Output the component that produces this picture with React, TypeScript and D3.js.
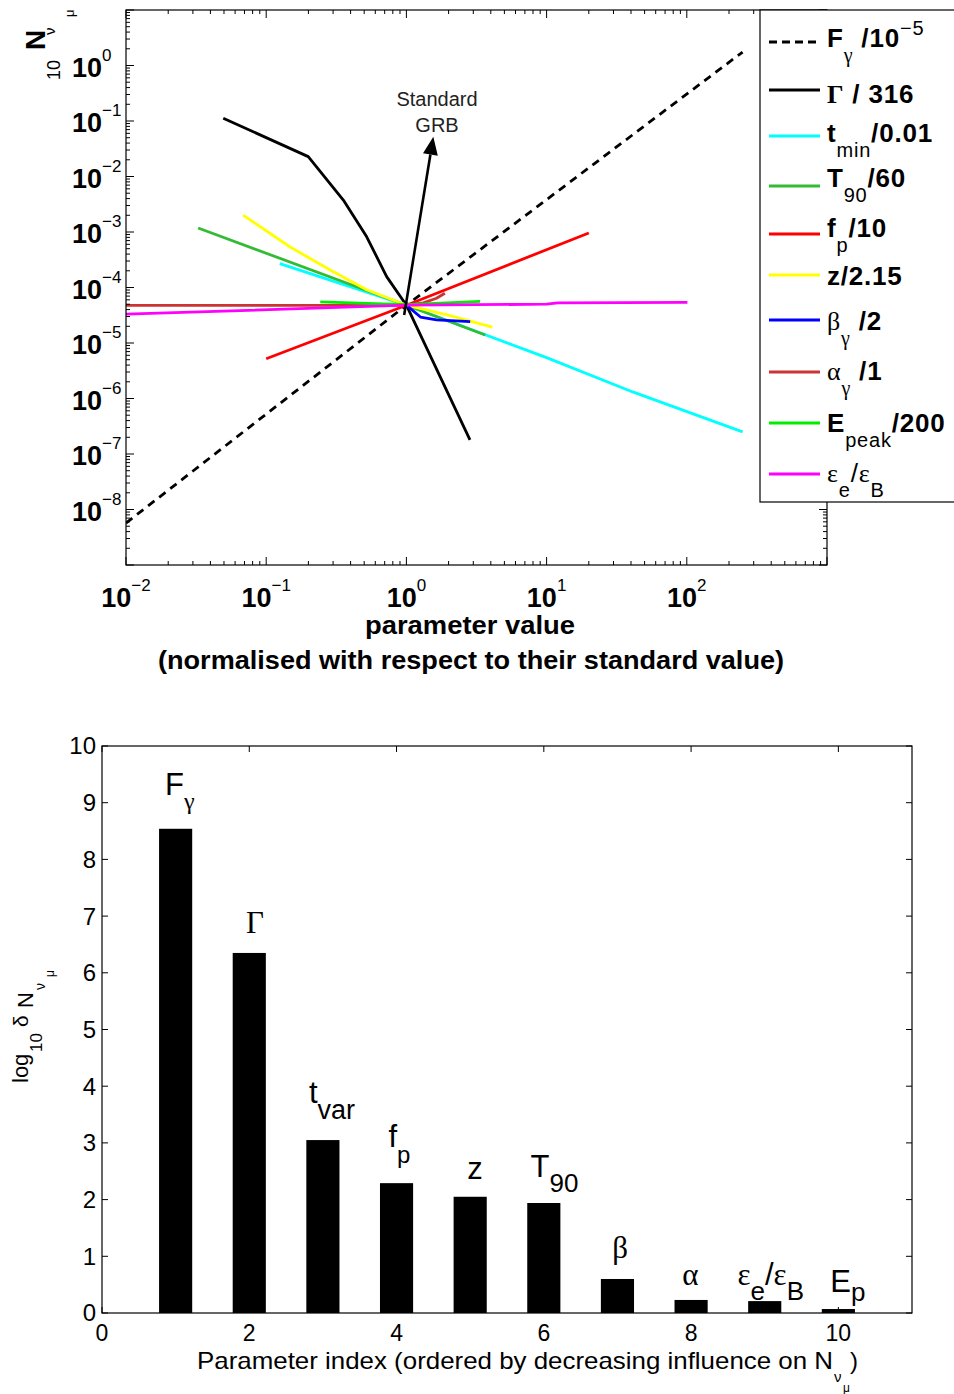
import React from 'react';
import * as d3 from 'd3';

const W = 954;
const H = 1394;
const SANS = "'Liberation Sans', Arial, Helvetica, sans-serif";
const SERIF = "'Liberation Serif', 'Times New Roman', serif";

// ---------- Top chart data (parameter value, N) ----------
const fGammaX = [0.01, 1, 250];
const fGammaY = [5.7e-9, 4.8e-5, 1.75];
const gammaX = [0.0494, 0.1995, 0.355, 0.521, 0.723, 1, 2.84];
const gammaY = [0.112, 0.0228, 0.00377, 8.2e-4, 1.57e-4, 4.8e-5, 1.79e-7];
const tminX = [0.125, 1, 10.1, 41.6, 250];
const tminY = [2.7e-4, 4.8e-5, 5.4e-6, 1.3e-6, 2.5e-7];
const t90X = [0.0327, 1, 3.65];
const t90Y = [1.18e-3, 4.8e-5, 1.39e-5];
const fpX = [0.1, 1, 20];
const fpY = [5.2e-6, 4.8e-5, 9.6e-4];
const zX = [0.0684, 0.148, 0.286, 0.525, 1, 1.95, 4.1];
const zY = [2.02e-3, 5.37e-4, 2.07e-4, 9.0e-5, 4.8e-5, 3.2e-5, 1.94e-5];
const betaX = [0.97, 1, 1.26, 1.64, 2.85];
const betaY = [4.9e-5, 4.8e-5, 2.94e-5, 2.6e-5, 2.42e-5];
const alphaX = [0.01, 0.3, 1, 1.32, 1.64, 1.88];
const alphaY = [4.75e-5, 4.78e-5, 4.8e-5, 5.3e-5, 6.4e-5, 7.9e-5];
const epeakX = [0.243, 1, 3.36];
const epeakY = [5.5e-5, 4.9e-5, 5.6e-5];
const epsX = [0.01, 1, 10, 12, 101];
const epsY = [3.3e-5, 4.8e-5, 5.0e-5, 5.3e-5, 5.4e-5];

const seriesX = [fGammaX, gammaX, tminX, t90X, fpX, zX, betaX, alphaX, epeakX, epsX];
const seriesY = [fGammaY, gammaY, tminY, t90Y, fpY, zY, betaY, alphaY, epeakY, epsY];
const seriesColors = ['#000000', '#000000', '#00ffff', '#33bb33', '#ff0000', '#ffff00', '#0000ff', '#cc3333', '#00ee00', '#ff00ff'];
const seriesDash = [true, false, false, false, false, false, false, false, false, false];

// legend text parts: level 0 main, 1 sub, -1 sup
type Part = { t: string; lv?: number; serif?: boolean; light?: boolean };
const legendParts: Part[][] = [
  [{ t: 'F' }, { t: 'γ', lv: 1, serif: true }, { t: ' /10' }, { t: '−5', lv: -1 }],
  [{ t: 'Γ', serif: true }, { t: ' / 316' }],
  [{ t: 't' }, { t: 'min', lv: 1 }, { t: '/0.01' }],
  [{ t: 'T' }, { t: '90', lv: 1 }, { t: '/60' }],
  [{ t: 'f' }, { t: 'p', lv: 1 }, { t: '/10' }],
  [{ t: 'z/2.15' }],
  [{ t: 'β', serif: true, light: true }, { t: 'γ', lv: 1, serif: true }, { t: ' /2' }],
  [{ t: 'α', serif: true, light: true }, { t: 'γ', lv: 1, serif: true }, { t: ' /1' }],
  [{ t: 'E' }, { t: 'peak', lv: 1 }, { t: '/200' }],
  [{ t: 'ε', serif: true, light: true }, { t: 'e', lv: 1 }, { t: '/', light: true }, { t: 'ε', serif: true, light: true }, { t: 'B', lv: 1 }],
];
const legendLineY = [42, 90, 136, 186, 234, 275, 320, 372, 423, 474];
const legendBaseY = [47, 103, 142, 187, 237, 285, 330, 380, 432, 482];

const xTopDecades = [-2, -1, 0, 1, 2, 3];
const xTopLabelDecades = [-2, -1, 0, 1, 2];
const yTopDecades = [-9, -8, -7, -6, -5, -4, -3, -2, -1, 0, 1];
const yTopLabelDecades = [0, -1, -2, -3, -4, -5, -6, -7, -8];

const arrowTail = [0.964, 3.2e-5];
const arrowTip = [1.556, 0.052];

// ---------- Bottom chart data ----------
const barIndex = [1, 2, 3, 4, 5, 6, 7, 8, 9, 10];
const barValues = [8.54, 6.35, 3.05, 2.29, 2.05, 1.94, 0.6, 0.23, 0.21, 0.07];
const barLabelParts: Part[][] = [
  [{ t: 'F' }, { t: 'γ', lv: 1, serif: true }],
  [{ t: 'Γ', serif: true }],
  [{ t: 't' }, { t: 'var', lv: 1 }],
  [{ t: 'f' }, { t: 'p', lv: 1 }],
  [{ t: 'z' }],
  [{ t: 'T' }, { t: '90', lv: 1 }],
  [{ t: 'β', serif: true }],
  [{ t: 'α', serif: true }],
  [{ t: 'ε', serif: true }, { t: 'e', lv: 1 }, { t: '/' }, { t: 'ε', serif: true }, { t: 'B', lv: 1 }],
  [{ t: 'E' }, { t: 'p', lv: 1 }],
];
const barLabelX = [0.856, 1.957, 2.81, 3.89, 4.96, 5.82, 6.93, 7.88, 8.63, 9.89];
const barLabelY = [9.14, 6.7, 3.7, 2.93, 2.36, 2.4, 0.97, 0.49, 0.49, 0.37];
const barLabelSubDy = [14, 0, 16, 16, 0, 15, 0, 0, 15, 9];
const barLabelSubFs = [24, 26, 27, 24, 26, 26, 26, 26, 26, 26];
const xBotTicks = [0, 2, 4, 6, 8, 10];
const yBotTicks = [0, 1, 2, 3, 4, 5, 6, 7, 8, 9, 10];

export default function App() {
  // top scales
  const xT = d3.scaleLog().domain([1e-2, 1e3]).range([126, 827]);
  const yT = d3.scaleLog().domain([1e-9, 1e1]).range([565, 10]);
  const line = d3
    .line<[number, number]>()
    .x((d) => xT(d[0]))
    .y((d) => yT(d[1]));

  const xMinor: number[] = [];
  xTopDecades.slice(0, -1).forEach((d) => {
    for (let k = 2; k <= 9; k++) xMinor.push(k * Math.pow(10, d));
  });
  const yMinor: number[] = [];
  yTopDecades.slice(0, -1).forEach((d) => {
    for (let k = 2; k <= 9; k++) yMinor.push(k * Math.pow(10, d));
  });

  const [tx0, tx1] = xT.range();
  const [ty0, ty1] = yT.range(); // 565, 10

  // arrow
  const ax0 = xT(arrowTail[0]);
  const ay0 = yT(arrowTail[1]);
  const ax1 = xT(arrowTip[0]);
  const ay1 = yT(arrowTip[1]);
  const len = Math.hypot(ax1 - ax0, ay1 - ay0);
  const ux = (ax1 - ax0) / len;
  const uy = (ay1 - ay0) / len;
  const headL = 18;
  const headW = 7.5;
  const bx = ax1 - ux * headL;
  const by = ay1 - uy * headL;
  const head = `M${ax1},${ay1} L${bx - uy * headW},${by + ux * headW} L${bx + uy * headW},${by - ux * headW} Z`;

  // bottom scales
  const xB = d3.scaleLinear().domain([0, 11]).range([102, 912]);
  const yB = d3.scaleLinear().domain([0, 10]).range([1313, 746]);
  const barW = xB(0.45) - xB(0);

  const renderParts = (
    parts: Part[],
    mainFs: number,
    subFs: number,
    subOff: number,
    supOff: number,
    bold: boolean
  ) => {
    let cur = 0;
    return parts.map((p, i) => {
      const lv = p.lv || 0;
      const target = lv === 1 ? subOff : lv === -1 ? supOff : 0;
      const dy = target - cur;
      cur = target;
      const fs = lv === 0 ? mainFs : subFs;
      return (
        <tspan
          key={i}
          dy={dy}
          fontSize={fs}
          fontFamily={p.serif ? SERIF : SANS}
          fontWeight={bold && lv === 0 && !p.light ? 'bold' : 'normal'}
        >
          {p.t}
        </tspan>
      );
    });
  };

  return (
    <svg
      width={W}
      height={H}
      style={{ position: 'absolute', left: 0, top: 0, background: '#fff' }}
      fontFamily={SANS}
    >
      <rect x={0} y={0} width={W} height={H} fill="#fff" />
      <defs>
        <clipPath id="topclip">
          <rect x={tx0} y={ty1} width={tx1 - tx0} height={ty0 - ty1} />
        </clipPath>
      </defs>

      {/* ===== TOP CHART ===== */}
      <g clipPath="url(#topclip)">
        {seriesX.map((xs, i) => (
          <path
            key={i}
            d={line(xs.map((x, j) => [x, seriesY[i][j]]) as [number, number][]) || ''}
            fill="none"
            stroke={seriesColors[i]}
            strokeWidth={2.8}
            strokeDasharray={seriesDash[i] ? '8,6' : undefined}
            strokeLinejoin="round"
          />
        ))}
      </g>

      {/* arrow */}
      <line x1={ax0} y1={ay0} x2={bx} y2={by} stroke="#000" strokeWidth={2.6} />
      <path d={head} fill="#000" />
      <text x={437} y={106} textAnchor="middle" fontSize={20} fill="#222">
        Standard
      </text>
      <text x={437} y={132} textAnchor="middle" fontSize={20} fill="#222">
        GRB
      </text>

      {/* frame */}
      <rect x={tx0} y={ty1} width={tx1 - tx0} height={ty0 - ty1} fill="none" stroke="#000" strokeWidth={1.2} />
      {xTopDecades.map((d) => {
        const x = xT(Math.pow(10, d));
        return (
          <g key={'xm' + d}>
            <line x1={x} x2={x} y1={ty0} y2={ty0 - 8} stroke="#000" />
            <line x1={x} x2={x} y1={ty1} y2={ty1 + 8} stroke="#000" />
          </g>
        );
      })}
      {xMinor.map((v, i) => {
        const x = xT(v);
        return (
          <g key={'xn' + i}>
            <line x1={x} x2={x} y1={ty0} y2={ty0 - 4} stroke="#000" />
            <line x1={x} x2={x} y1={ty1} y2={ty1 + 4} stroke="#000" />
          </g>
        );
      })}
      {yTopDecades.map((d) => {
        const y = yT(Math.pow(10, d));
        return (
          <g key={'ym' + d}>
            <line x1={tx0} x2={tx0 + 8} y1={y} y2={y} stroke="#000" />
            <line x1={tx1} x2={tx1 - 8} y1={y} y2={y} stroke="#000" />
          </g>
        );
      })}
      {yMinor.map((v, i) => {
        const y = yT(v);
        return (
          <g key={'yn' + i}>
            <line x1={tx0} x2={tx0 + 4} y1={y} y2={y} stroke="#000" />
            <line x1={tx1} x2={tx1 - 4} y1={y} y2={y} stroke="#000" />
          </g>
        );
      })}

      {/* x tick labels */}
      {xTopLabelDecades.map((d) => (
        <text key={'xl' + d} x={xT(Math.pow(10, d))} y={607} textAnchor="middle" fontWeight="bold" fontSize={27}>
          <tspan>10</tspan>
          <tspan dy={-16} fontSize={17} fontWeight="normal">
            {d < 0 ? '−' + Math.abs(d) : String(d)}
          </tspan>
        </text>
      ))}
      {/* y tick labels */}
      {yTopLabelDecades.map((d) => (
        <text key={'yl' + d} x={72} y={yT(Math.pow(10, d)) + 11} fontWeight="bold" fontSize={27}>
          <tspan>10</tspan>
          <tspan dy={-16} fontSize={17} fontWeight="normal">
            {d < 0 ? '−' + Math.abs(d) : String(d)}
          </tspan>
        </text>
      ))}

      {/* axis titles top */}
      <text x={470} y={634} textAnchor="middle" fontWeight="bold" fontSize={25} textLength={210} lengthAdjust="spacingAndGlyphs">
        parameter value
      </text>
      <text x={471} y={669} textAnchor="middle" fontWeight="bold" fontSize={25} textLength={626} lengthAdjust="spacingAndGlyphs">
        (normalised with respect to their standard value)
      </text>
      <text transform="rotate(-90)">
        <tspan x={-80} y={60} fontSize={18}>10</tspan>
        <tspan x={-50} y={45} fontSize={28} fontWeight="bold">N</tspan>
        <tspan x={-35} y={55} fontSize={15}>ν</tspan>
        <tspan x={-17} y={74} fontSize={13}>μ</tspan>
      </text>

      {/* legend */}
      <rect x={760} y={10} width={210} height={492} fill="#fff" stroke="#000" strokeWidth={1.2} />
      {legendParts.map((parts, i) => (
        <g key={'lg' + i}>
          <line
            x1={769}
            x2={820}
            y1={legendLineY[i]}
            y2={legendLineY[i]}
            stroke={seriesColors[i]}
            strokeWidth={3}
            strokeDasharray={seriesDash[i] ? '8,5' : undefined}
          />
          <text x={827} y={legendBaseY[i]} letterSpacing={0.8}>
            {renderParts(parts, 26, 20, 15, -12, true)}
          </text>
        </g>
      ))}

      {/* ===== BOTTOM CHART ===== */}
      {barIndex.map((b, i) => (
        <rect key={'bar' + i} x={xB(b) - barW / 2} y={yB(barValues[i])} width={barW} height={yB(0) - yB(barValues[i])} fill="#000" />
      ))}
      <rect x={xB(0)} y={yB(10)} width={xB(11) - xB(0)} height={yB(0) - yB(10)} fill="none" stroke="#000" strokeWidth={1.2} />
      {xBotTicks.map((t) => (
        <g key={'bx' + t}>
          <line x1={xB(t)} x2={xB(t)} y1={yB(0)} y2={yB(0) - 6} stroke="#000" />
          <line x1={xB(t)} x2={xB(t)} y1={yB(10)} y2={yB(10) + 6} stroke="#000" />
          <text x={xB(t)} y={1341} textAnchor="middle" fontSize={23}>
            {t}
          </text>
        </g>
      ))}
      {yBotTicks.map((t) => (
        <g key={'by' + t}>
          <line x1={xB(0)} x2={xB(0) + 6} y1={yB(t)} y2={yB(t)} stroke="#000" />
          <line x1={xB(11)} x2={xB(11) - 6} y1={yB(t)} y2={yB(t)} stroke="#000" />
          <text x={96} y={yB(t)} dy="0.35em" textAnchor="end" fontSize={24}>
            {t}
          </text>
        </g>
      ))}
      {barLabelParts.map((parts, i) => (
        <text key={'bl' + i} x={xB(barLabelX[i])} y={yB(barLabelY[i])}>
          {renderParts(parts, 31, barLabelSubFs[i], barLabelSubDy[i], 0, false)}
        </text>
      ))}
      <text fontSize={24}>
        <tspan x={197} y={1369} textLength={636} lengthAdjust="spacingAndGlyphs">
          Parameter index (ordered by decreasing influence on N
        </tspan>
        <tspan x={834} y={1382} fontSize={15}>ν</tspan>
        <tspan x={843} y={1392} fontSize={12}>μ</tspan>
        <tspan x={850} y={1369}>)</tspan>
      </text>
      <text transform="rotate(-90)">
        <tspan x={-1083} y={28} fontSize={22}>log</tspan>
        <tspan x={-1052} y={42} fontSize={17}>10</tspan>
        <tspan x={-1027} y={28} fontSize={21}>δ</tspan>
        <tspan x={-1008} y={33} fontSize={22}>N</tspan>
        <tspan x={-990} y={45} fontSize={14}>ν</tspan>
        <tspan x={-977} y={54} fontSize={12}>μ</tspan>
      </text>
    </svg>
  );
}
